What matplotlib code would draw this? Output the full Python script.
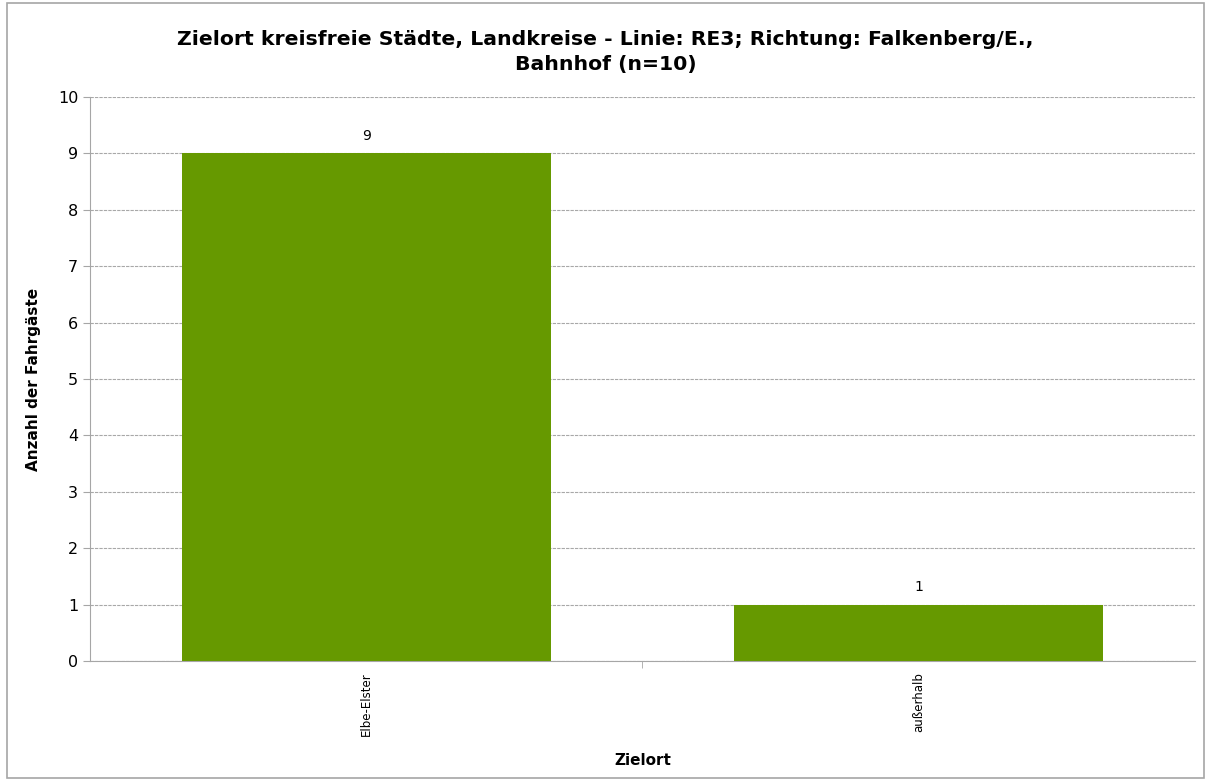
import matplotlib
matplotlib.use('Agg')
import matplotlib.pyplot as plt
from matplotlib.patches import Rectangle

# Chart data
categories = ['Elbe-Elster', 'außerhalb']
values = [9, 1]
y_ticks = list(range(0, 11))

fig = plt.figure(figsize=(12.11, 7.81), dpi=100)
ax = fig.add_axes([0.0743, 0.1536, 0.9125, 0.7222])

# outer frame of the chart
fig.patches.append(Rectangle((0.006, 0.004), 0.988, 0.992, transform=fig.transFigure,
                             fill=False, edgecolor='#a6a6a6', linewidth=1.2))

x = range(len(categories))
bars = ax.bar(x, values, width=0.667, color='#669900', zorder=3)

for xi, v in zip(x, values):
    ax.text(xi, v + 0.18, str(v), ha='center', va='bottom', fontsize=10)

ax.set_xlim(-0.5, len(categories) - 0.5)
ax.set_ylim(0, 10)
ax.set_yticks(y_ticks)
ax.set_yticklabels([str(t) for t in y_ticks], fontsize=11.5)
ax.set_xticks([0.5], minor=True)
ax.set_xticks(list(x))
ax.set_xticklabels(categories, rotation=90, fontsize=8.5)
ax.tick_params(axis='x', which='major', length=0, pad=8)
ax.tick_params(axis='x', which='minor', length=5, color='#a6a6a6')
ax.tick_params(axis='y', length=5, color='#a6a6a6')

ax.yaxis.grid(True, linestyle=(0, (3, 1)), color='#a8a8a8', linewidth=0.8, zorder=0)
for side in ['top', 'right']:
    ax.spines[side].set_visible(False)
ax.spines['left'].set_color('#a6a6a6')
ax.spines['bottom'].set_color('#a6a6a6')

ax.set_ylabel('Anzahl der Fahrgäste', fontsize=11, fontweight='bold', labelpad=12)
ax.set_xlabel('Zielort', fontsize=11, fontweight='bold', labelpad=12)
fig.suptitle('Zielort kreisfreie Städte, Landkreise - Linie: RE3; Richtung: Falkenberg/E.,\nBahnhof (n=10)',
             fontsize=14.7, fontweight='bold', x=0.5, y=0.962, linespacing=1.45)

fig.savefig('out.png', dpi=100)
